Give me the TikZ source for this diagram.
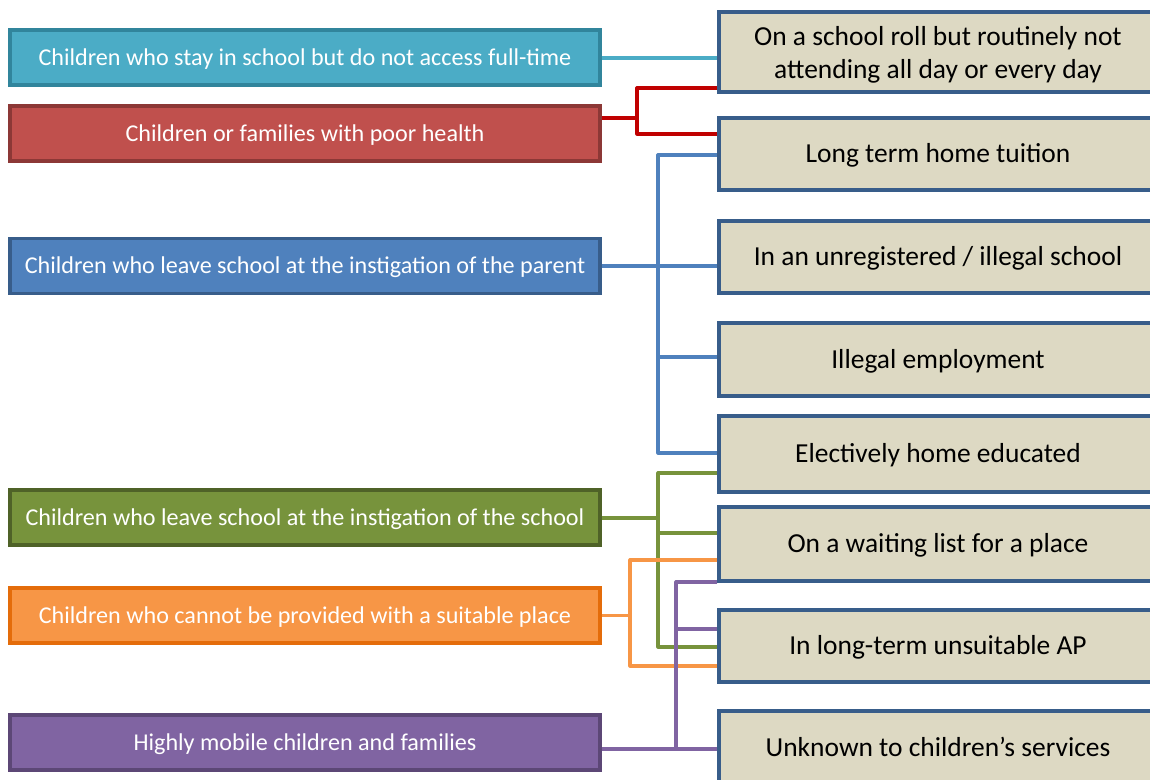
\documentclass[tikz,border=0pt]{standalone}
\usepackage{fontspec}
\setmainfont{Carlito}
\definecolor{cyanF}{HTML}{4BACC6}\definecolor{cyanD}{HTML}{31859C}
\definecolor{redF}{HTML}{C0504D}\definecolor{redD}{HTML}{8C3836}
\definecolor{blueF}{HTML}{4F81BD}\definecolor{blueD}{HTML}{385D8A}
\definecolor{greenF}{HTML}{77933C}\definecolor{greenD}{HTML}{4F6228}
\definecolor{orangeF}{HTML}{F79646}\definecolor{orangeD}{HTML}{E46C0A}
\definecolor{purpleF}{HTML}{8064A2}\definecolor{purpleD}{HTML}{5C4776}
\definecolor{tanF}{HTML}{DDD9C3}
\definecolor{darkred}{HTML}{C00000}
\tikzset{
  lbox/.style={draw=#1D, fill=#1F, line width=2.4pt, minimum width=590*0.75pt,
     minimum height=55*0.75pt, inner sep=0pt, text=white, font=\fontsize{18.1}{22}\selectfont,
     text height=15.4pt, text depth=3.6pt},
  rbox/.style={draw=blueD, fill=tanF, line width=2.6pt, minimum width=438*0.75pt,
     inner sep=0pt, text=black, align=center, font=\fontsize{20.6}{24.8}\selectfont},
  rone/.style={rbox, text height=17.5pt, text depth=4.1pt},
  conn/.style={draw=#1, line width=2.4pt, line join=round}
}
\begin{document}
\begin{tikzpicture}[x=0.75pt,y=-0.75pt]
\clip (0,0) rectangle (1150,780);
\fill[white] (0,0) rectangle (1150,780);
% left boxes
\node[lbox=cyan]   (L1) at (305,57.5)  {Children who stay in school but do not access full-time};
\node[lbox=red]    (L2) at (305,133.5) {Children or families with poor health};
\node[lbox=blue]   (L3) at (305,266)   {Children who leave school at the instigation of the parent};
\node[lbox=green]  (L4) at (305,517.5) {Children who leave school at the instigation of the school};
\node[lbox=orange] (L5) at (305,615.5) {Children who cannot be provided with a suitable place};
\node[lbox=purple] (L6) at (305,742.5) {Highly mobile children and families};
% right boxes
\node[rbox, minimum height=80*0.75pt] (R1) at (938,52)   {\rule{0pt}{19pt}On a school roll but routinely not\\attending all day or every day};
\node[rone, minimum height=72*0.75pt] (R2) at (938,154)  {Long term home tuition};
\node[rone, minimum height=72*0.75pt] (R3) at (938,257)  {In an unregistered / illegal school};
\node[rone, minimum height=73*0.75pt] (R4) at (938,359.5){Illegal employment};
\node[rone, minimum height=76*0.75pt] (R5) at (938,454)  {Electively home educated};
\node[rone, minimum height=74*0.75pt] (R6) at (938,544)  {On a waiting list for a place};
\node[rone, minimum height=72*0.75pt] (R7) at (938,646)  {In long-term unsuitable AP};
\node[rone, minimum height=74*0.75pt] (R8) at (938,748)  {Unknown to children’s services};
% junction coordinates
\coordinate (cs) at (660,58);
\coordinate (rs) at (637,118); \coordinate (rt) at (637,88); \coordinate (rb) at (637,134);
\coordinate (bt) at (658,155); \coordinate (bm) at (658,266); \coordinate (b4) at (658,357); \coordinate (bb) at (658,453);
\coordinate (gt) at (658,473); \coordinate (gs) at (658,518); \coordinate (g6) at (658,533); \coordinate (gb) at (658,647);
\coordinate (ot) at (630,560); \coordinate (os) at (630,615.5); \coordinate (ob) at (630,666); \coordinate (oe) at (717,666);
\coordinate (pt) at (676,582); \coordinate (p7) at (676,629); \coordinate (pb) at (676,749);
% cyan
\draw[conn=cyanF] (L1.east |- cs) -- (R1.west |- cs);
% red
\draw[conn=darkred] (L2.east |- rs) -- (rs);
\draw[conn=darkred] (R1.west |- rt) -- (rt) -- (rb) -- (R2.west |- rb);
% blue
\draw[conn=blueF] (R2.west |- bt) -- (bt) -- (bb) -- (R5.west |- bb);
\draw[conn=blueF] (L3.east |- bm) -- (R3.west |- bm);
\draw[conn=blueF] (b4) -- (R4.west |- b4);
% purple
\draw[conn=purpleF] (R6.west |- pt) -- (pt) -- (pb);
\draw[conn=purpleF] (p7) -- (R7.west |- p7);
\draw[conn=purpleF] (L6.east |- pb) -- (R8.west |- pb);
% green
\draw[conn=greenF] (R5.west |- gt) -- (gt) -- (gb) -- (R7.west |- gb);
\draw[conn=greenF] (L4.east |- gs) -- (gs);
\draw[conn=greenF] (g6) -- (R6.west |- g6);
% orange
\draw[conn=orangeF] (R6.west |- ot) -- (ot) -- (ob) -- (oe);
\draw[conn=orangeF] (L5.east |- os) -- (os);
% redraw purple vertical over orange
\draw[conn=purpleF] (676,640) -- (pb);
\end{tikzpicture}
\end{document}
